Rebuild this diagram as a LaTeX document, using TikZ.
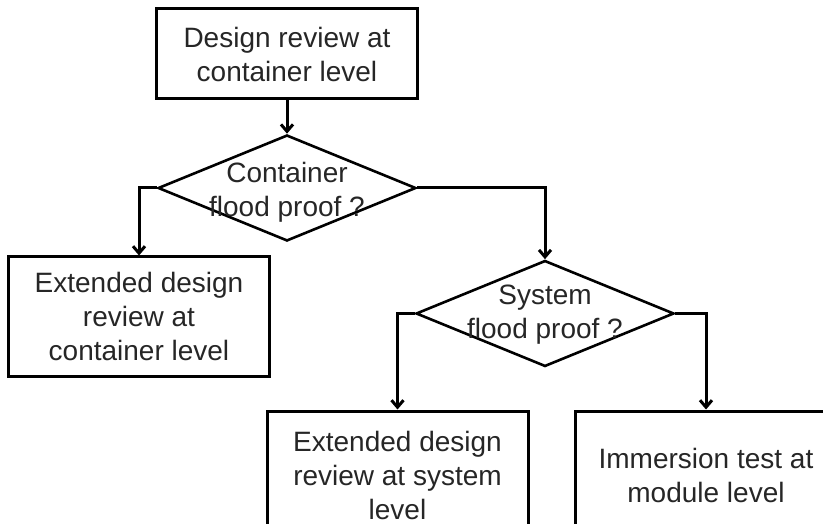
\documentclass[tikz,border=0pt]{standalone}
\usepackage{fontspec}
\setmainfont{Liberation Sans}
\usetikzlibrary{shapes.geometric,arrows.meta}

\begin{document}
\begin{tikzpicture}[x=1pt,y=-1pt,
    txt/.style={font=\fontsize{28}{34}\selectfont,align=center,text=black!85},
    box/.style={txt,draw,rectangle,line width=3pt,minimum width=261pt,inner sep=0pt},
    choice/.style={draw,diamond,line width=2.6pt,minimum width=258pt,minimum height=106pt,inner sep=0pt},
    flow/.style={line width=3pt,-{Straight Barb[length=7pt,width=12pt]}}]

        \clip (0,0) rectangle (823,524);

        \node [box, minimum height=90pt] (review) at (287,54) {Design review at\\container level};
        \node [choice, label={[txt,yshift=-4pt]center:Container\\flood proof ?}] (cflood) at (287,188) {};
        \node [box, minimum height=119pt] (extcont) at (139,316.5) {Extended design\\review at\\container level};
        \node [choice, label={[txt,yshift=-1pt]center:System\\flood proof ?}] (sflood) at (545,313.5) {};
        \node [box, minimum height=128pt] (extsys) at (397.5,475) {Extended design\\review at system\\level};
        \node [box, minimum height=128pt] (immersion) at (706,475) {Immersion test at\\module level};

        \draw [flow] (review) -- (cflood);
        \draw [flow] (cflood.west) -| (extcont.north);
        \draw [flow] (cflood.east) -| (sflood.north);
        \draw [flow] (sflood.west) -| (extsys.north);
        \draw [flow] (sflood.east) -| (immersion.north);
\end{tikzpicture}
\end{document}
